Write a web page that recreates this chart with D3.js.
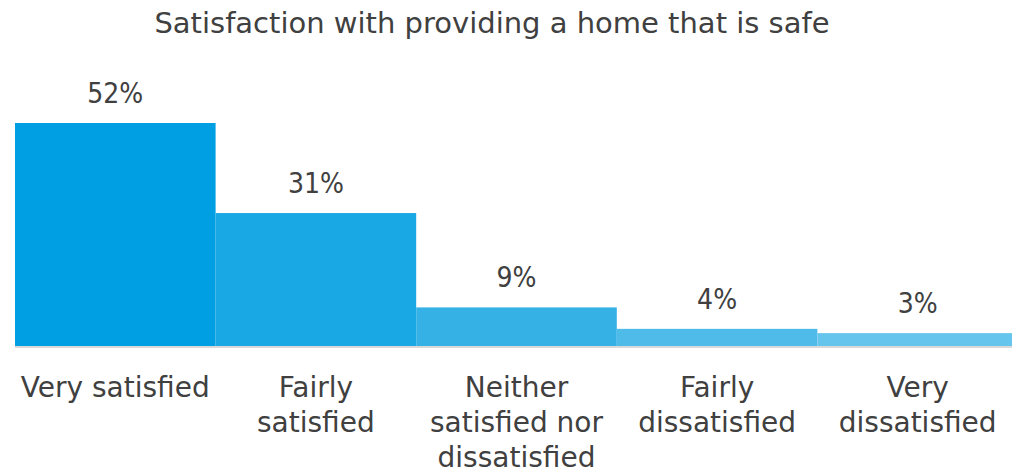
<!DOCTYPE html>
<html>
<head>
<meta charset="utf-8">
<script src="https://cdn.jsdelivr.net/npm/d3@7"></script>
<style>
  html, body { margin: 0; padding: 0; background: #fff; }
  svg text { font-family: "DejaVu Sans", sans-serif; fill: #404040; }
</style>
</head>
<body>
<svg id="chart" width="1012" height="475"></svg>
<script>
const title = "Satisfaction with providing a home that is safe";
const categories = [
  ["Very satisfied"],
  ["Fairly", "satisfied"],
  ["Neither", "satisfied nor", "dissatisfied"],
  ["Fairly", "dissatisfied"],
  ["Very", "dissatisfied"]
];
const values = [52, 31, 9, 4, 3];
const valueLabels = ["52%", "31%", "9%", "4%", "3%"];
const colors = ["#009fe3", "#1aa8e4", "#35b1e6", "#4ebbe9", "#66c5ec"];

const svg = d3.select("#chart");
const baseline = 346;

const x = d3.scaleBand()
  .domain(d3.range(values.length))
  .range([15, 1018])
  .paddingInner(0)
  .paddingOuter(0);

const y = d3.scaleLinear()
  .domain([0, 52])
  .range([baseline, 123]);

// title
svg.append("text")
  .attr("x", 492)
  .attr("y", 33)
  .attr("text-anchor", "middle")
  .style("font-size", "29px")
  .text(title);

// bars
svg.selectAll("rect.bar")
  .data(values)
  .join("rect")
  .attr("class", "bar")
  .attr("x", (d, i) => x(i))
  .attr("width", x.bandwidth())
  .attr("y", d => y(d))
  .attr("height", d => baseline - y(d))
  .attr("fill", (d, i) => colors[i]);

// axis baseline
svg.append("line")
  .attr("x1", 15).attr("x2", 1012)
  .attr("y1", baseline + 1).attr("y2", baseline + 1)
  .attr("stroke", "#d9d9d9")
  .attr("stroke-width", 2);

// value labels
svg.selectAll("text.value")
  .data(values)
  .join("text")
  .attr("class", "value")
  .attr("x", (d, i) => x(i) + x.bandwidth() / 2)
  .attr("y", d => y(d) - 20)
  .attr("text-anchor", "middle")
  .style("font-size", "28px")
  .style("font-stretch", "condensed")
  .text((d, i) => valueLabels[i]);

// category labels
const cat = svg.selectAll("text.cat")
  .data(categories)
  .join("text")
  .attr("class", "cat")
  .attr("text-anchor", "middle")
  .style("font-size", "28px");

cat.selectAll("tspan")
  .data((lines, i) => lines.map(l => ({ l, i })))
  .join("tspan")
  .attr("x", d => x(d.i) + x.bandwidth() / 2)
  .attr("y", (d, j) => 397 + j * 35)
  .text(d => d.l);
</script>
</body>
</html>
